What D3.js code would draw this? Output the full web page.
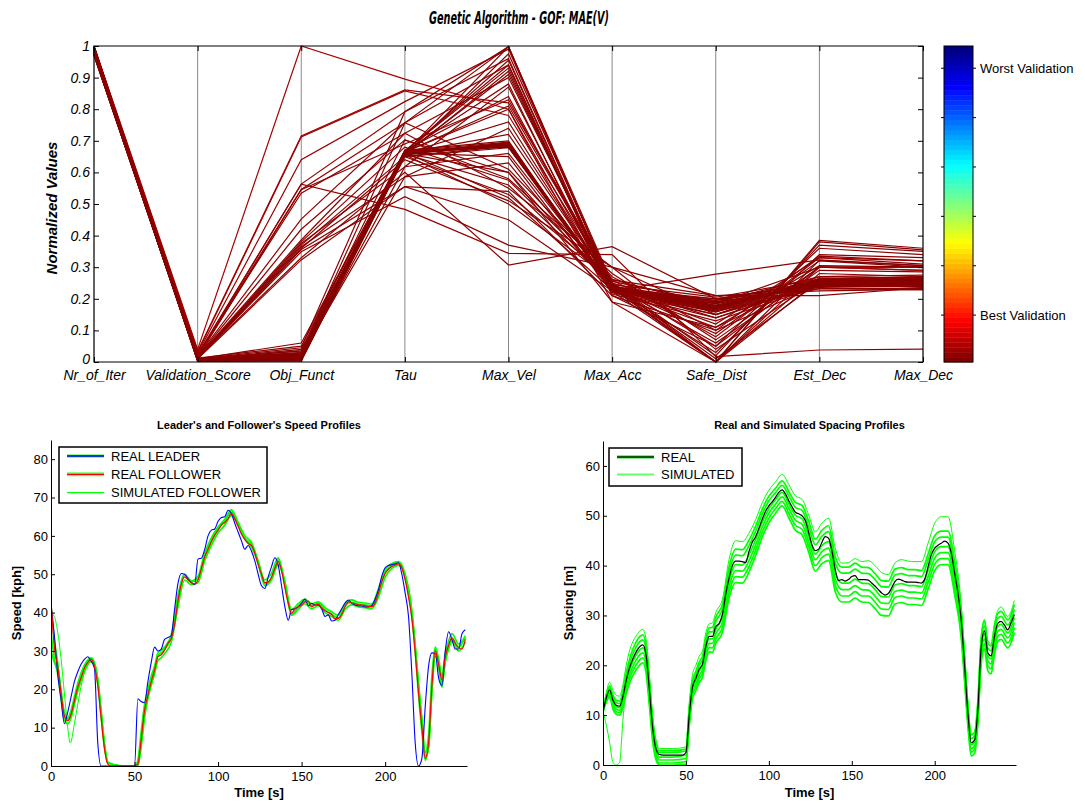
<!DOCTYPE html>
<html>
<head>
<meta charset="utf-8">
<script src="https://cdn.jsdelivr.net/npm/d3@7"></script>
<style>
  body { margin: 0; background: #fff; }
  svg { display: block; font-family: "Liberation Sans", Arial, sans-serif; }
</style>
</head>
<body>
<svg id="chart" width="1085" height="803"></svg>
<script>
// ---------------- GA parameter sets (normalised 0..1) ----------------
const parameters = ["Nr_of_Iter", "Validation_Score", "Obj_Funct", "Tau", "Max_Vel",
                    "Max_Acc", "Safe_Dist", "Est_Dec", "Max_Dec"];
const normTicks = [0, 0.1, 0.2, 0.3, 0.4, 0.5, 0.6, 0.7, 0.8, 0.9, 1];

// one row per solution, in the order of `parameters`
const gaSolutions = [
  [1.000, 0.005, 0.010, 0.660, 0.690, 0.232, 0.172, 0.250, 0.248],
  [0.995, 0.006, 0.012, 0.662, 0.688, 0.230, 0.168, 0.252, 0.252],
  [0.990, 0.004, 0.008, 0.658, 0.692, 0.235, 0.175, 0.248, 0.245],
  [0.985, 0.007, 0.015, 0.664, 0.686, 0.228, 0.165, 0.255, 0.255],
  [0.975, 0.005, 0.011, 0.660, 0.684, 0.233, 0.178, 0.246, 0.250],
  [0.998, 0.006, 0.009, 0.661, 0.690, 0.230, 0.170, 0.258, 0.242],
  [0.972, 0.005, 0.013, 0.659, 0.694, 0.236, 0.180, 0.252, 0.258],
  [0.988, 0.004, 0.010, 0.663, 0.680, 0.226, 0.160, 0.244, 0.262],
  [0.985, 0.003, 0.005, 0.652, 0.682, 0.238, 0.185, 0.240, 0.246],
  [0.970, 0.008, 0.020, 0.667, 0.696, 0.224, 0.158, 0.262, 0.252],
  [0.978, 0.002, 0.003, 0.650, 0.678, 0.240, 0.190, 0.236, 0.240],
  [0.995, 0.009, 0.025, 0.670, 0.700, 0.221, 0.150, 0.265, 0.265],
  [0.974, 0.004, 0.006, 0.657, 0.688, 0.231, 0.176, 0.249, 0.236],
  [0.992, 0.007, 0.018, 0.664, 0.692, 0.229, 0.166, 0.254, 0.256],
  [0.996, 0.008, 0.020, 0.662, 0.998, 0.235, 0.000, 0.260, 0.255],
  [0.983, 0.006, 0.018, 0.655, 0.975, 0.245, 0.010, 0.255, 0.260],
  [0.971, 0.009, 0.025, 0.665, 0.955, 0.225, 0.195, 0.240, 0.238],
  [0.977, 0.007, 0.030, 0.668, 0.930, 0.222, 0.185, 0.300, 0.290],
  [1.000, 0.010, 0.035, 0.660, 0.910, 0.240, 0.120, 0.330, 0.310],
  [0.987, 0.008, 0.040, 0.665, 0.880, 0.210, 0.050, 0.360, 0.340],
  [0.973, 0.012, 0.050, 0.670, 0.840, 0.230, 0.150, 0.250, 0.270],
  [0.981, 0.010, 0.060, 0.664, 0.810, 0.250, 0.000, 0.385, 0.360],
  [0.997, 0.006, 0.016, 0.660, 0.600, 0.235, 0.200, 0.232, 0.232],
  [0.984, 0.008, 0.022, 0.658, 0.560, 0.245, 0.205, 0.262, 0.268],
  [0.991, 0.009, 0.028, 0.663, 0.520, 0.228, 0.190, 0.270, 0.275],
  [0.979, 0.007, 0.014, 0.656, 0.500, 0.260, 0.210, 0.225, 0.230],
  [0.994, 0.005, 0.018, 0.662, 0.650, 0.220, 0.140, 0.250, 0.250],
  [0.976, 0.006, 0.020, 0.660, 0.760, 0.238, 0.090, 0.320, 0.300],
  [0.999, 0.008, 0.024, 0.661, 0.720, 0.242, 0.060, 0.290, 0.285],
  [1.000, 0.040, 1.000, 0.895, 0.800, 0.190, 0.000, 0.300, 0.290],
  [0.998, 0.034, 0.715, 0.861, 0.820, 0.260, 0.080, 0.330, 0.320],
  [0.996, 0.030, 0.712, 0.858, 0.780, 0.250, 0.050, 0.300, 0.300],
  [0.994, 0.027, 0.640, 0.824, 0.990, 0.240, 0.000, 0.280, 0.270],
  [0.992, 0.024, 0.563, 0.792, 0.960, 0.230, 0.110, 0.265, 0.260],
  [0.990, 0.022, 0.546, 0.757, 0.940, 0.215, 0.130, 0.240, 0.245],
  [0.988, 0.020, 0.534, 0.724, 0.900, 0.250, 0.160, 0.232, 0.228],
  [0.986, 0.018, 0.452, 0.757, 0.610, 0.270, 0.100, 0.335, 0.320],
  [0.984, 0.016, 0.420, 0.703, 0.580, 0.280, 0.070, 0.300, 0.300],
  [0.982, 0.015, 0.386, 0.724, 0.550, 0.300, 0.040, 0.262, 0.270],
  [0.980, 0.014, 0.375, 0.618, 0.660, 0.240, 0.140, 0.245, 0.252],
  [0.978, 0.013, 0.365, 0.586, 0.630, 0.230, 0.160, 0.270, 0.265],
  [0.997, 0.012, 0.356, 0.555, 0.540, 0.210, 0.100, 0.245, 0.240],
  [0.995, 0.012, 0.349, 0.523, 0.370, 0.300, 0.210, 0.210, 0.235],
  [0.993, 0.020, 0.563, 0.483, 0.344, 0.340, 0.017, 0.038, 0.041],
  [0.991, 0.013, 0.330, 0.600, 0.307, 0.365, 0.200, 0.250, 0.250],
  [0.989, 0.010, 0.323, 0.555, 0.450, 0.225, 0.278, 0.323, 0.305],
  [0.987, 0.008, 0.030, 0.757, 0.998, 0.250, 0.020, 0.370, 0.350],
  [0.985, 0.010, 0.045, 0.792, 0.998, 0.235, 0.030, 0.340, 0.330],
  [0.983, 0.007, 0.012, 0.618, 0.870, 0.228, 0.195, 0.258, 0.262],
  [0.981, 0.006, 0.020, 0.586, 0.740, 0.240, 0.170, 0.262, 0.258],
  [0.979, 0.009, 0.035, 0.703, 0.600, 0.190, 0.110, 0.305, 0.300],
  [0.977, 0.012, 0.380, 0.680, 0.575, 0.255, 0.188, 0.248, 0.248],
  [0.999, 0.011, 0.370, 0.650, 0.530, 0.262, 0.175, 0.255, 0.265],
  [0.997, 0.010, 0.360, 0.640, 0.510, 0.300, 0.150, 0.240, 0.245],
  [0.995, 0.014, 0.545, 0.690, 0.830, 0.236, 0.185, 0.250, 0.255],
  [0.993, 0.006, 0.010, 0.655, 0.920, 0.232, 0.000, 0.322, 0.305],
  [0.971, 0.007, 0.015, 0.668, 0.940, 0.226, 0.200, 0.245, 0.250],
  [0.989, 0.008, 0.018, 0.665, 0.800, 0.224, 0.000, 0.380, 0.355]
];

// colour bar: 64 colour steps, labelled at steps 10 and 60
const colorSteps = 64;
const colorbarTicks = [10, 20, 30, 40, 50, 60];
const colorbarLabels = { 10: "Best Validation", 60: "Worst Validation" };

// ---------------- time series ----------------
const timeTicks = [0, 50, 100, 150, 200];
const speedTicks = [0, 10, 20, 30, 40, 50, 60, 70, 80];
const spacingTicks = [0, 10, 20, 30, 40, 50, 60];

// measured series, sampled every 2 s (0 .. 248 s)
const timeMeasured = d3.range(0, 249, 2);
const leaderSpeed = [42, 34, 24, 17.5, 11, 14, 18, 22, 24.5, 26.5,
  27.8, 28.5, 27.3, 25.5, 6, 0, 0, 0, 0, 0,
  0, 0, 0, 0, 0, 0, 17.5, 16.8, 16.5, 22,
  27, 31, 30, 30.5, 33, 33.5, 34, 41, 47.6, 50.2,
  50, 48.8, 47.8, 47.3, 54, 54.2, 56.5, 60, 61.5, 61.8,
  63.8, 64.8, 65, 66.7, 65.8, 63.3, 61, 58.7, 56.5, 57.5,
  56, 53.5, 50, 47, 46.3, 49.3, 52, 54.3, 52.4, 47,
  41.5, 38, 40.8, 41, 41.5, 42.5, 43.5, 41.8, 42.4, 42,
  42, 41, 39, 39.4, 37.8, 38, 39.5, 41, 42.5, 43.3,
  42.4, 42, 41.8, 41.7, 41.5, 41.5, 41.8, 43.5, 46, 49.5,
  51.7, 52.3, 52.5, 52.7, 53, 50, 45, 39, 24, 6,
  0, 2, 15.5, 26, 29.5, 29.4, 23, 21, 30, 35,
  33, 30.5, 30.5, 34.5, 35.5];
const followerSpeed = [43, 31, 26, 19, 13, 11.8, 13.5, 17, 20.5, 23,
  25.5, 27, 27.8, 26, 21, 12.5, 4.5, 0.5, 0, 0,
  0, 0, 0, 0, 0, 0, 0.5, 7, 14.5, 18.5,
  22, 25, 28.5, 29, 30.2, 32, 33.2, 37, 43, 47.5,
  49.3, 48.5, 47.8, 47.5, 48.5, 51.5, 54.5, 56.5, 58.5, 60.2,
  61.5, 62.8, 63.5, 64.5, 65.9, 64.5, 62.5, 60.5, 59, 58,
  57.5, 55.5, 52.5, 50, 47.8, 48, 49.3, 51.5, 53.3, 51,
  46.5, 42.5, 39.8, 41, 41.5, 42, 42.8, 43, 41.5, 42,
  42.2, 41.2, 40.5, 40, 39.5, 38.4, 38.5, 39.5, 41.5, 42.8,
  42.5, 42.3, 42, 42, 41.8, 41.6, 41.5, 42.5, 45, 48,
  50.2, 51.3, 52, 52.4, 52.7, 51.7, 48.5, 44, 38.5, 29.5,
  19, 10, 2, 6, 21, 30, 26.5, 22.5, 28.5, 31.5,
  33.5, 32, 30.8, 30.5, 33];
const realSpacing = [10.7, 13.5, 15.1, 13, 12, 11.8, 13.7, 17, 19.5, 21.3,
  22.7, 23.7, 24.1, 22, 15, 7.3, 3.2, 2.1, 2, 2,
  2, 2, 2, 2, 2, 2.5, 10, 15.7, 17.4, 19.2,
  20.3, 23.8, 25.8, 25.8, 27.8, 28.4, 30.2, 34.3, 37.5, 40,
  40.9, 40.9, 40.8, 40.6, 42.8, 44.7, 45.8, 47.5, 49.3, 50.9,
  52, 52.8, 53.7, 54.7, 55.2, 54.4, 53, 51.8, 50.7, 50.4,
  50, 49, 46.7, 44.2, 43, 43.3, 44.7, 45.8, 45.5, 43,
  39.3, 37, 37.2, 36.9, 37.2, 37.8, 38, 37.2, 37.2, 37.2,
  37.1, 36.5, 35.9, 35.2, 34.5, 34.1, 34.4, 35.5, 36.8, 37.3,
  37.1, 36.8, 36.7, 36.7, 36.7, 36.6, 36.5, 37.3, 39.8, 42.2,
  43.5, 44.1, 44.5, 44.9, 44.5, 42.5, 38.5, 34.5, 29, 20,
  10.5, 4.5, 5, 11.1, 23.5, 26.9, 22.5, 21.9, 25.8, 28.4,
  28.8, 28.1, 27.1, 28.5, 30.2];

// simulated runs, sampled at these instants
const timeSimulated = [0, 2, 4, 6, 8, 10, 12, 14, 16, 20, 24, 26, 28, 30, 32, 34, 42, 50,
  52, 54, 56, 58, 60, 62, 64, 66, 68, 72, 76, 80, 84, 88, 92, 96, 100, 104, 108, 112,
  116, 120, 124, 128, 132, 136, 140, 144, 148, 152, 156, 160, 164, 168, 172, 176, 180,
  184, 188, 192, 196, 200, 204, 208, 212, 216, 218, 220, 222, 224, 226, 228, 230, 232,
  234, 236, 238, 240, 244, 248];

const simSpeedA = [42, 33, 27, 20, 14, 12.5, 14.5, 18, 21.5, 26.3, 28.2, 27, 22.5, 14, 5.5, 1, 0, 0,
  1.5, 9, 16, 20, 23.5, 26, 29.5, 30.2, 31, 34.2, 44.5, 50, 48.3, 49.5, 55.5, 59.5, 62.3, 64.3, 66.8, 63.5,
  60, 58.3, 53.5, 48.5, 50.3, 54.3, 48, 40.8, 42.3, 43.5, 42.3, 42.8, 41.3, 40.2, 39.3, 42.3, 43.3,
  42.7, 42.5, 42.2, 46.2, 51.2, 52.8, 53.3, 50, 40.5, 31.5, 21.5, 12, 3.5, 8, 23.5, 31, 28,
  23.5, 29.5, 32.5, 34.5, 31.8, 34];
const simSpeedB = [35, 28, 24, 17.5, 12, 11, 12.5, 16, 19.5, 24.5, 27.3, 26.5, 22.5, 14.5, 6, 1, 0, 0,
  0, 5, 12.5, 17.5, 21, 24, 27.5, 28.2, 29.3, 32.3, 41.5, 48.5, 47.3, 47.8, 53.5, 57.5, 60.8, 62.8, 65.3, 63,
  59.5, 57, 53, 47, 48.5, 52.5, 48, 39.3, 40.8, 42.3, 41, 41.8, 40, 39, 38, 40.8, 42,
  41.5, 41.3, 41, 44, 49.2, 51.5, 52.3, 49.5, 40, 31, 21, 12, 2.5, 4.5, 19, 28.5, 27,
  21.5, 27, 30.5, 32.5, 30, 32.3];
const simSpeedC = [30, 27, 25, 18.5, 13.5, 12, 13.3, 17, 20.3, 25.8, 28, 26.2, 21.5, 13, 5, 0.8, 0, 0,
  0.8, 7.5, 15, 19, 22.5, 25.5, 28.8, 29.5, 30.5, 33.5, 43.5, 49.8, 48, 48.8, 54.8, 58.8, 61.8, 63.8, 66.2, 62.8,
  59.3, 57.8, 52.8, 47.5, 49, 53.8, 47, 39.5, 41.5, 43, 41.8, 42.4, 40.7, 39.6, 38.6, 41.8, 42.7,
  42.2, 42, 41.7, 45.5, 50.5, 52.3, 53, 49, 39, 30, 18.5, 9, 1.5, 5.5, 20.5, 30.5, 26,
  20.5, 28, 31, 33, 31, 33.5];
// one run that brakes hard right after the start
const timeSpeedOutlier = [0, 2, 4, 6, 8, 10, 11.5, 14, 16, 20, 24];
const simSpeedOutlier = [40, 39, 35, 28, 19, 10, 6, 11, 16, 24.5, 27.5];

const simSpacing1 = [10.7, 14.0, 15.9, 14, 13, 12.8, 14.9, 18.5, 21.2, 24.7, 26.1, 24, 16.8, 8.8, 4.4, 2.9, 2.9, 3.2,
  11.2, 17, 18.8, 20.7, 21.8, 25.4, 27.5, 27.6, 29.7, 32.2, 39.7, 43.3, 43.2, 45.1, 47.9, 51.3, 53.9, 55.5, 57, 54.9,
  52.7, 52.1, 48.9, 45.3, 47.1, 48, 41.8, 39.7, 39.7, 40.5, 39.7, 39.6, 38.4, 37, 36.9, 39.3, 39.6,
  39.2, 39.2, 39, 42.3, 46, 46.9, 46.9, 40.9, 31, 21.8, 12, 6, 6.5, 12.7, 25.3, 28.9, 24.5,
  23.9, 27.8, 30.4, 30.8, 29.1, 32.2];
const simSpacing2 = [10.7, 13.8, 15.5, 13.5, 12.5, 12.3, 14.3, 17.8, 20.4, 23.7, 25.1, 23, 15.9, 8.1, 3.8, 2.5, 2.5, 2.8,
  10.6, 16.4, 18.1, 20, 21.1, 24.6, 26.7, 26.7, 28.8, 31.2, 38.6, 42.1, 42, 44, 46.9, 50.3, 53, 54.6, 56.1, 54,
  51.7, 51.1, 47.8, 44.2, 45.9, 46.8, 40.6, 38.5, 38.5, 39.3, 38.5, 38.4, 37.2, 35.8, 35.7, 38.1, 38.4,
  38, 38, 37.8, 41.1, 44.8, 45.7, 45.7, 39.7, 30, 20.9, 11.3, 5.3, 5.8, 11.9, 24.4, 27.9, 23.5,
  22.9, 26.8, 29.4, 29.8, 28.1, 31.2];
const simSpacing3 = [10.7, 13.4, 14.9, 12.7, 11.7, 11.5, 13.3, 16.6, 19, 22.1, 23.5, 21.4, 14.5, 6.9, 2.8, 1.6, 1.6, 2.0,
  9.6, 15.3, 17, 18.8, 19.9, 23.3, 25.3, 25.3, 27.2, 29.6, 36.8, 40.2, 40.1, 42.1, 45.2, 48.7, 51.4, 53.2, 54.7, 52.4,
  50.1, 49.4, 46, 42.3, 44, 44.8, 38.6, 36.5, 36.5, 37.3, 36.5, 36.4, 35.2, 33.8, 33.7, 36.1, 36.4,
  36, 36, 35.8, 39.1, 42.8, 43.8, 43.8, 37.8, 28.4, 19.5, 10.1, 4.1, 4.6, 10.6, 23, 26.3, 21.9,
  21.3, 25.2, 27.8, 28.2, 26.5, 29.6];
const simSpacing4 = [10.7, 13.1, 14.5, 12.2, 11.2, 11, 12.7, 15.8, 18.1, 21.1, 22.5, 20.4, 13.6, 6.1, 2.2, 1.0, 1.0, 1.3,
  9.0, 14.7, 16.3, 18, 19.1, 22.5, 24.4, 24.4, 26.3, 28.6, 35.7, 39, 38.9, 41, 44.1, 47.7, 50.5, 52.3, 53.8, 51.5,
  49.1, 48.3, 44.9, 41.2, 42.8, 43.5, 37.3, 35.2, 35.2, 36, 35.2, 35.1, 33.9, 32.5, 32.4, 34.8, 35.1,
  34.7, 34.7, 34.5, 37.8, 41.5, 42.6, 42.6, 36.6, 27.4, 18.6, 9.3, 3.3, 3.8, 9.8, 22.1, 25.3, 20.9,
  20.3, 24.2, 26.8, 27.2, 25.5, 28.6];
const simSpacing5 = [10.7, 12.9, 14.1, 11.7, 10.7, 10.5, 12.1, 15.1, 17.3, 20.1, 21.5, 19.4, 12.7, 5.4, 1.6, 0.4, 0.4, 0.7,
  8.4, 14, 15.6, 17.3, 18.4, 21.7, 23.6, 23.5, 25.3, 27.6, 34.6, 37.8, 37.7, 39.8, 43.1, 46.7, 49.5, 51.4, 52.9, 50.5,
  48.1, 47.3, 43.8, 40, 41.6, 42.3, 36.1, 33.9, 33.9, 34.8, 33.9, 33.9, 32.7, 31.3, 31.2, 33.6, 33.9,
  33.5, 33.5, 33.3, 36.6, 40.3, 41.4, 41.4, 35.4, 26.4, 17.7, 8.6, 2.6, 3.1, 9, 21.2, 24.3, 19.9,
  19.3, 23.2, 25.8, 26.2, 24.5, 27.6];
const simSpacing6 = [10.7, 12.6, 13.7, 11.2, 10.2, 10, 11.5, 14.3, 16.4, 19.1, 20.5, 18.4, 11.8, 4.6, 1.0, 0, 0, 0.2,
  7.8, 13.4, 14.9, 16.5, 17.6, 20.9, 22.7, 22.6, 24.4, 26.6, 33.5, 36.6, 36.5, 38.7, 42, 45.7, 48.6, 50.5, 52, 49.6,
  47.1, 46.2, 42.7, 38.9, 40.4, 41, 34.8, 32.7, 32.7, 33.5, 32.7, 32.6, 31.4, 30, 29.9, 32.3, 32.6,
  32.2, 32.2, 32, 35.3, 39, 40.2, 40.2, 34.2, 25.4, 16.8, 7.8, 1.8, 2.3, 8.2, 20.3, 23.3, 18.9,
  18.3, 22.2, 24.8, 25.2, 23.5, 26.6];
const simSpacingHigh = [10.7, 14.5, 16.6, 15, 14, 13.8, 16.1, 20, 22.9, 25.9, 27.2, 25.2, 18, 9.8, 5, 3.3, 3.3, 3.6,
  12.5, 18.2, 20, 21.8, 22.9, 26.5, 28.3, 28.5, 30.6, 33.2, 41.2, 45, 44.8, 46.5, 49.2, 52.6, 55.1, 56.8, 58.3, 56.3,
  54, 53.3, 50.2, 46.8, 48.5, 49.5, 43.5, 40.5, 40.6, 41.4, 40.8, 41, 40, 38.6, 38.2, 40.5, 41.2,
  40.9, 40.8, 40.8, 44.5, 48.5, 49.8, 49.8, 43, 32, 22.5, 12.5, 6.2, 6.6, 13, 25.8, 29.2, 25,
  24.3, 28.3, 31, 31.7, 29.8, 33];
const timeSpacingOutlier = [0, 2, 4, 6, 8, 10, 12, 14];
const simSpacingOutlier = [10.7, 8, 4.5, 0.5, 0, 0.5, 9, 16.3];

// ---------------- drawing ----------------
const svg = d3.select("#chart");

// MATLAB-style jet colour map, x in [0,1] from dark blue to dark red
function jet(x) {
  const c = v => Math.max(0, Math.min(1, v));
  return d3.rgb(255 * c(1.5 - Math.abs(4 * x - 3)),
                255 * c(1.5 - Math.abs(4 * x - 2)),
                255 * c(1.5 - Math.abs(4 * x - 1)));
}
// best validation is drawn dark red, worst dark blue
const validationColor = v => jet(1 - v);

// ---- parallel coordinates ----
const pc = { left: 94, right: 923, top: 46, bottom: 362 };
const px = d3.scalePoint().domain(parameters).range([pc.left, pc.right]);
const py = d3.scaleLinear().domain([0, 1]).range([pc.bottom, pc.top]);

const pcG = svg.append("g");
pcG.selectAll("line.axisline").data(parameters).join("line")
  .attr("x1", d => px(d)).attr("x2", d => px(d))
  .attr("y1", pc.top).attr("y2", pc.bottom)
  .attr("stroke", "#8a8a8a").attr("stroke-width", 1);

const pcLine = d3.line();
pcG.selectAll("path.sol").data(gaSolutions).join("path")
  .attr("d", row => pcLine(row.map((v, i) => [px(parameters[i]), py(v)])))
  .attr("fill", "none")
  .attr("stroke", row => validationColor(row[1]))
  .attr("stroke-width", 1.2)
  .attr("stroke-linejoin", "miter");

pcG.append("rect")
  .attr("x", pc.left).attr("y", pc.top)
  .attr("width", pc.right - pc.left).attr("height", pc.bottom - pc.top)
  .attr("fill", "none").attr("stroke", "#000").attr("stroke-width", 1);

function styleAxis(g) {
  g.select(".domain").remove();
  g.selectAll(".tick line").attr("stroke", "#000");
}
pcG.append("g").attr("transform", `translate(${pc.left},0)`)
  .call(d3.axisLeft(py).tickValues(normTicks).tickFormat(d3.format("~g")).tickSize(-5).tickPadding(4))
  .call(styleAxis)
  .call(g => g.selectAll("text").attr("font-size", 14).attr("font-style", "italic")
    .attr("fill", "#000").attr("font-family", "Liberation Sans, Arial, sans-serif"))
  .call(g => g.selectAll(".tick").filter(d => d === 0).select("text").attr("dy", "0.1em"));
pcG.append("g").attr("transform", `translate(${pc.right},0)`)
  .call(d3.axisRight(py).tickValues(normTicks).tickFormat("").tickSize(-5))
  .call(styleAxis);
pcG.append("g").attr("transform", `translate(0,${pc.bottom})`)
  .call(d3.axisBottom(px).tickSize(-5).tickPadding(8))
  .call(styleAxis)
  .call(g => g.selectAll("text").attr("font-size", 14).attr("font-style", "italic")
    .attr("fill", "#000").attr("font-family", "Liberation Sans, Arial, sans-serif"));
pcG.append("g").attr("transform", `translate(0,${pc.top})`)
  .call(d3.axisTop(px).tickFormat("").tickSize(-5))
  .call(styleAxis);

svg.append("text")
  .attr("transform", `translate(57,${(pc.top + pc.bottom) / 2 + 4}) rotate(-90)`)
  .attr("text-anchor", "middle")
  .attr("font-size", 15).attr("font-weight", "bold").attr("font-style", "italic")
  .text("Normalized Values");

svg.append("text")
  .attr("x", 519).attr("y", 24)
  .attr("text-anchor", "middle")
  .attr("font-family", "'Liberation Sans Narrow', 'DejaVu Sans Condensed', Lato, sans-serif")
  .attr("font-size", 17).attr("font-weight", "bold").attr("font-style", "italic")
  .attr("textLength", 180).attr("lengthAdjust", "spacingAndGlyphs")
  .text("Genetic Algorithm - GOF: MAE(V)");

// ---- colour bar ----
const cb = { x: 944, w: 29 };
const cy = d3.scaleLinear().domain([0.5, colorSteps + 0.5]).range([pc.bottom, pc.top]);
const cbG = svg.append("g");
cbG.selectAll("rect.step").data(d3.range(1, colorSteps + 1)).join("rect")
  .attr("x", cb.x).attr("width", cb.w)
  .attr("y", k => cy(k + 0.5)).attr("height", k => cy(k - 0.5) - cy(k + 0.5) + 0.4)
  .attr("fill", k => jet(1 - (k - 1) / (colorSteps - 1)));
cbG.append("rect").attr("x", cb.x).attr("y", pc.top).attr("width", cb.w)
  .attr("height", pc.bottom - pc.top).attr("fill", "none").attr("stroke", "#000");
cbG.selectAll("line.tl").data(colorbarTicks).join("line")
  .attr("x1", cb.x - 3).attr("x2", cb.x).attr("y1", k => cy(k)).attr("y2", k => cy(k)).attr("stroke", "#000");
cbG.selectAll("line.tr").data(colorbarTicks).join("line")
  .attr("x1", cb.x + cb.w).attr("x2", cb.x + cb.w + 3).attr("y1", k => cy(k)).attr("y2", k => cy(k)).attr("stroke", "#000");
cbG.selectAll("text").data(colorbarTicks.filter(k => colorbarLabels[k])).join("text")
  .attr("x", cb.x + cb.w + 7).attr("y", k => cy(k)).attr("dy", "0.35em")
  .attr("font-size", 13).text(k => colorbarLabels[k]);

// ---- time-series panels ----
function timePanel(cfg) {
  const x = d3.scaleLinear().domain([0, 249]).range([cfg.x0, cfg.x1]);
  const y = d3.scaleLinear().domain([0, cfg.yMax]).range([cfg.y0, cfg.y1]);
  const g = svg.append("g");
  const clipId = "clip-" + cfg.id;
  g.append("clipPath").attr("id", clipId).append("rect")
    .attr("x", cfg.x0).attr("y", cfg.y1).attr("width", cfg.x1 - cfg.x0).attr("height", cfg.y0 - cfg.y1 + 1);
  const plot = g.append("g").attr("clip-path", `url(#${clipId})`);
  const addLine = (times, values, color, width) => {
    const line = d3.line().x((d, i) => x(times[i])).y(d => y(d)).curve(d3.curveMonotoneX);
    plot.append("path").attr("d", line(values)).attr("fill", "none")
      .attr("stroke", color).attr("stroke-width", width).attr("stroke-linejoin", "round");
  };
  cfg.series.forEach(s => addLine(s.t, s.v, s.color, s.width));

  g.append("g").attr("transform", `translate(0,${cfg.y0})`)
    .call(d3.axisBottom(x).tickValues(timeTicks).tickSizeInner(-4).tickSizeOuter(0).tickPadding(6))
    .call(a => a.select(".domain").attr("stroke", "#000"))
    .call(a => a.selectAll("text").attr("font-size", 13).attr("fill", "#000")
      .attr("font-family", "Liberation Sans, Arial, sans-serif"));
  g.append("g").attr("transform", `translate(${cfg.x0},0)`)
    .call(d3.axisLeft(y).tickValues(cfg.yTicks).tickSizeInner(-4).tickSizeOuter(0).tickPadding(3))
    .call(a => a.select(".domain").attr("stroke", "#000"))
    .call(a => a.selectAll("text").attr("font-size", 13).attr("fill", "#000")
      .attr("font-family", "Liberation Sans, Arial, sans-serif"));

  svg.append("text").attr("x", (cfg.x0 + cfg.x1) / 2).attr("y", 429)
    .attr("text-anchor", "middle").attr("font-size", 11).attr("font-weight", "bold").text(cfg.title);
  svg.append("text").attr("x", (cfg.x0 + cfg.x1) / 2).attr("y", 797)
    .attr("text-anchor", "middle").attr("font-size", 13).attr("font-weight", "bold").text("Time [s]");
  svg.append("text")
    .attr("transform", `translate(${cfg.yLabelX},${(cfg.y0 + cfg.y1) / 2}) rotate(-90)`)
    .attr("text-anchor", "middle").attr("font-size", 13).attr("font-weight", "bold").text(cfg.yLabel);

  // legend
  const lg = svg.append("g");
  lg.append("rect").attr("x", cfg.legend.x).attr("y", cfg.legend.y)
    .attr("width", cfg.legend.w).attr("height", cfg.legend.h)
    .attr("fill", "#fff").attr("stroke", "#000").attr("stroke-width", 1.5);
  cfg.legend.items.forEach((it, i) => {
    const yy = cfg.legend.y + cfg.legend.row0 + i * cfg.legend.rowStep;
    it.strokes.forEach(s => lg.append("line")
      .attr("x1", cfg.legend.x + 8).attr("x2", cfg.legend.x + 45)
      .attr("y1", yy).attr("y2", yy).attr("stroke", s.color).attr("stroke-width", s.width));
    lg.append("text").attr("x", cfg.legend.x + 52).attr("y", yy).attr("dy", "0.36em")
      .attr("font-size", 13).text(it.label);
  });
}

timePanel({
  id: "speed", x0: 51, x1: 467, y0: 766, y1: 440, yMax: 85, yTicks: speedTicks,
  title: "Leader's and Follower's Speed Profiles", yLabel: "Speed [kph]", yLabelX: 21,
  series: [
    { t: timeSimulated, v: simSpeedA, color: "#00ff00", width: 1.7 },
    { t: timeSimulated, v: simSpeedB, color: "#00ff00", width: 1.7 },
    { t: timeSimulated, v: simSpeedC, color: "#00ff00", width: 1.7 },
    { t: timeSpeedOutlier, v: simSpeedOutlier, color: "#00ff00", width: 1 },
    { t: timeMeasured, v: leaderSpeed, color: "#0000ff", width: 1.1 },
    { t: timeMeasured, v: followerSpeed, color: "#ff0000", width: 1.2 }
  ],
  legend: { x: 59, y: 447, w: 208, h: 56, row0: 9, rowStep: 18.3, items: [
    { label: "REAL LEADER", strokes: [{ color: "#33ee33", width: 3 }, { color: "#0000ff", width: 1.3 }] },
    { label: "REAL FOLLOWER", strokes: [{ color: "#66ff66", width: 4 }, { color: "#ff0000", width: 1.3 }] },
    { label: "SIMULATED FOLLOWER", strokes: [{ color: "#00ff00", width: 1.3 }] }
  ] }
});

timePanel({
  id: "spacing", x0: 603, x1: 1016, y0: 765, y1: 441, yMax: 65, yTicks: spacingTicks,
  title: "Real and Simulated Spacing Profiles", yLabel: "Spacing [m]", yLabelX: 573,
  series: [
    { t: timeSimulated, v: simSpacingHigh, color: "#00ff00", width: 1 },
    { t: timeSimulated, v: simSpacing1, color: "#00ff00", width: 1.7 },
    { t: timeSimulated, v: simSpacing2, color: "#00ff00", width: 1.7 },
    { t: timeSimulated, v: simSpacing3, color: "#00ff00", width: 1.7 },
    { t: timeSimulated, v: simSpacing4, color: "#00ff00", width: 1.7 },
    { t: timeSimulated, v: simSpacing5, color: "#00ff00", width: 1.7 },
    { t: timeSimulated, v: simSpacing6, color: "#00ff00", width: 1.7 },
    { t: timeSpacingOutlier, v: simSpacingOutlier, color: "#00ff00", width: 1 },
    { t: timeMeasured, v: realSpacing, color: "#000000", width: 1.2 }
  ],
  legend: { x: 609, y: 448, w: 133, h: 38, row0: 9, rowStep: 17.6, items: [
    { label: "REAL", strokes: [{ color: "#22cc22", width: 3 }, { color: "#003300", width: 1.4 }] },
    { label: "SIMULATED", strokes: [{ color: "#66ff66", width: 2 }] }
  ] }
});
</script>
</body>
</html>
